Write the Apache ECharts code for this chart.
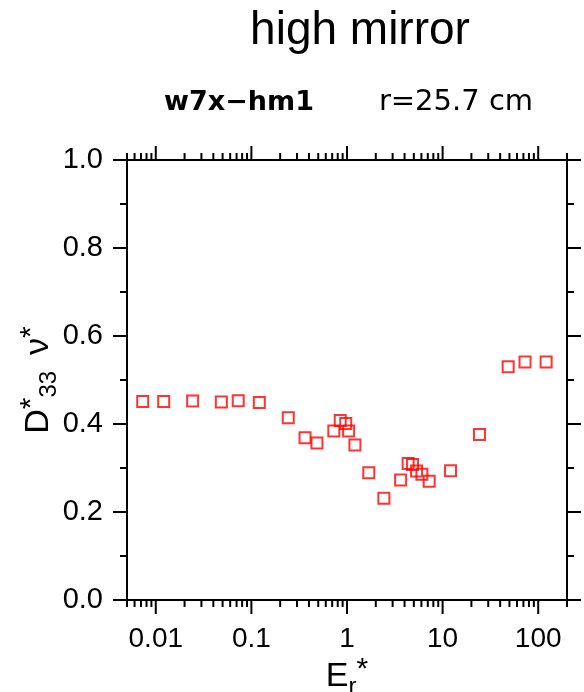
<!DOCTYPE html>
<html>
<head>
<meta charset="utf-8">
<script src="https://cdn.jsdelivr.net/npm/echarts@6/dist/echarts.min.js"></script>
<style>
html, body { margin: 0; padding: 0; background: #fff; }
#chart { width: 584px; height: 692px; }
</style>
</head>
<body>
<div id="chart"></div>
<script>
// Er* values (log axis) and D*33 nu* values
const erValues = [0.0073, 0.0121, 0.0243, 0.0485, 0.0728, 0.121, 0.243, 0.364, 0.485, 0.728,
    0.85, 0.97, 1.04, 1.21, 1.69, 2.43, 3.64, 4.36, 4.85, 5.34, 6.07, 7.24, 12.1, 24.3, 48.5, 72.8, 121]
const dValues = [0.451, 0.451, 0.452, 0.450, 0.453, 0.449, 0.414, 0.369, 0.357, 0.384,
    0.408, 0.401, 0.384, 0.352, 0.289, 0.231, 0.273, 0.310, 0.308, 0.293, 0.286, 0.270, 0.294, 0.376, 0.530, 0.541, 0.541]

const xMin = 0.005
const xMax = 200
const xMajorTicks = [0.01, 0.1, 1, 10, 100]
const xMinorTicks = [0.005, 0.006, 0.007, 0.008, 0.009,
    0.02, 0.03, 0.04, 0.05, 0.06, 0.07, 0.08, 0.09,
    0.2, 0.3, 0.4, 0.5, 0.6, 0.7, 0.8, 0.9,
    2, 3, 4, 5, 6, 7, 8, 9,
    20, 30, 40, 50, 60, 70, 80, 90, 200]

const font = '"Liberation Sans", Arial, sans-serif'
const black = '#000'

// tick marks drawn on bottom and top of the log axis
function tickSeries(values, len) {
    return {
        type: 'custom',
        silent: true,
        clip: false,
        z: 5,
        data: values.map(v => [v, 0]),
        renderItem: function (params, api) {
            const b = api.coord([api.value(0), 0])
            const t = api.coord([api.value(0), 1])
            const style = { stroke: black, lineWidth: 2 }
            return {
                type: 'group',
                children: [
                    { type: 'line', shape: { x1: b[0], y1: b[1], x2: b[0], y2: b[1] + len }, style: style },
                    { type: 'line', shape: { x1: t[0], y1: t[1], x2: t[0], y2: t[1] - len }, style: style }
                ]
            }
        }
    }
}

function yAxisCfg(pos, showLabel) {
    return {
        type: 'value',
        position: pos,
        min: 0,
        max: 1,
        interval: 0.2,
        axisLine: { show: true, onZero: false, lineStyle: { color: black, width: 2 } },
        axisTick: { show: true, inside: false, length: 14, lineStyle: { color: black, width: 2 } },
        minorTick: { show: true, splitNumber: 2, length: 7, lineStyle: { color: black, width: 2 } },
        splitLine: { show: false },
        minorSplitLine: { show: false },
        axisLabel: {
            show: showLabel,
            margin: 24,
            fontFamily: font,
            fontSize: 29,
            color: black,
            formatter: v => v.toFixed(1)
        }
    }
}

function xAxisCfg(pos, showLabel) {
    return {
        type: 'log',
        logBase: 10,
        position: pos,
        min: xMin,
        max: xMax,
        axisLine: { show: true, onZero: false, lineStyle: { color: black, width: 2 } },
        axisTick: { show: false },
        splitLine: { show: false },
        axisLabel: {
            show: showLabel,
            margin: 25,
            fontFamily: font,
            fontSize: 28,
            color: black,
            showMinLabel: false,
            showMaxLabel: false
        }
    }
}

const nameRich = {
    b: { fontFamily: font, fontSize: 34, color: black, lineHeight: 44, verticalAlign: 'middle' },
    sub: { fontFamily: font, fontSize: 24, color: black, lineHeight: 24, verticalAlign: 'bottom' },
    sup: { fontFamily: font, fontSize: 30, color: black, lineHeight: 30, verticalAlign: 'top' },
    sp: { fontFamily: font, fontSize: 34, lineHeight: 44, width: 16 }
}

const chart = echarts.init(document.getElementById('chart'))

const xBottom = xAxisCfg('bottom', true)
xBottom.name = '{b|E}{sub|r}{sup|*}'
xBottom.nameLocation = 'middle'
xBottom.nameGap = 55
xBottom.nameMoveOverlap = false
xBottom.nameTextStyle = { rich: nameRich }

const yLeft = yAxisCfg('left', true)
yLeft.name = '{b|D}{sup|*}{sub|33}{sp| }{b|\u03bd}{sup|*}'
yLeft.nameLocation = 'middle'
yLeft.nameRotate = 90
yLeft.nameGap = 66
yLeft.nameMoveOverlap = false
yLeft.nameTextStyle = { rich: nameRich }

chart.setOption({
    animation: false,
    backgroundColor: '#fff',
    title: [{
        text: 'high mirror',
        left: 355,
        top: 3,
        textAlign: 'center',
        textStyle: { fontFamily: font, fontSize: 46, fontWeight: 'normal', color: black }
    }, {
        text: 'w7x\u2212hm1',
        left: 234,
        top: 84,
        textAlign: 'center',
        textStyle: { fontFamily: '"DejaVu Sans", sans-serif', fontSize: 27, fontWeight: 'bold', color: black }
    }, {
        text: 'r=25.7 cm',
        left: 451,
        top: 83,
        textAlign: 'center',
        textStyle: { fontFamily: '"DejaVu Sans", sans-serif', fontSize: 29, fontWeight: 'normal', color: black }
    }],
    grid: { left: 127, right: 17, top: 160, bottom: 92, containLabel: false, outerBoundsMode: 'none' },
    xAxis: [xBottom, xAxisCfg('top', false)],
    yAxis: [yLeft, yAxisCfg('right', false)],
    series: [
        {
            type: 'scatter',
            symbol: 'rect',
            symbolSize: 11,
            itemStyle: { color: 'rgba(0,0,0,0)', borderColor: '#ff0000', borderWidth: 2 },
            z: 10,
            data: erValues.map((x, i) => [x, dValues[i]])
        },
        tickSeries(xMajorTicks, 14),
        tickSeries(xMinorTicks, 7)
    ]
})
</script>
</body>
</html>
